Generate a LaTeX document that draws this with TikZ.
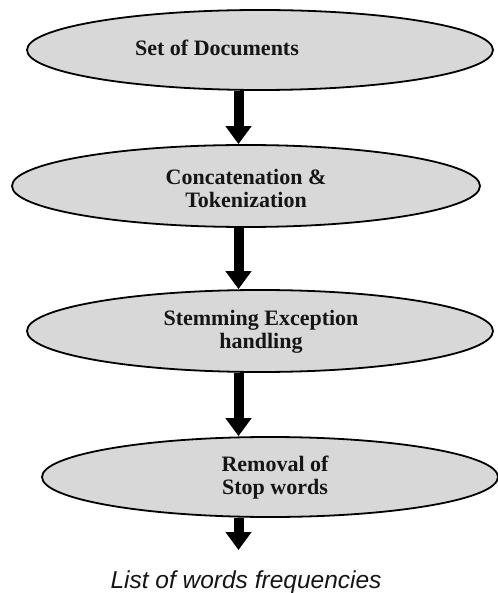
\documentclass[tikz,border=0pt]{standalone}
\usepackage{fontspec}
\setmainfont{Liberation Serif}
\setsansfont{Liberation Sans}
\usetikzlibrary{shapes.geometric,arrows.meta}
\definecolor{ellfill}{HTML}{D8D8D8}
\definecolor{txt}{HTML}{151515}
\tikzset{
  stage/.style={ellipse, draw=black, line width=1.8pt, fill=ellfill, inner sep=0pt},
  stagetext/.style={align=center, text=txt, font=\fontsize{22}{23}\selectfont\bfseries, inner sep=0pt},
  flow/.style={line width=10pt, -{Triangle[width=25pt,length=18pt]}},
  outtext/.style={font=\fontsize{24.5}{26}\selectfont\sffamily\itshape, inner sep=0pt, text=txt}
}
\begin{document}
\begin{tikzpicture}[x=1pt,y=-1pt]
\useasboundingbox (0,0) rectangle (497,593);
\node[stage, minimum width=466pt, minimum height=80pt] (e1) at (260,50) {};
\node[stage, minimum width=468pt, minimum height=82pt] (e2) at (246,186) {};
\node[stage, minimum width=466pt, minimum height=82pt] (e3) at (260,331) {};
\node[stage, minimum width=456pt, minimum height=80pt] (e4) at (270,477) {};
\node[stagetext] (t1) at (217,48) {Set of Documents};
\node[stagetext] (t2) at (246,188) {Concatenation \&\\Tokenization};
\node[stagetext] (t3) at (261,332) {Stemming Exception\\handling};
\node[stagetext] (t4) at (275,478) {Removal of\\Stop words};
\coordinate (ax) at (238.5,0);
\coordinate (end) at (238.5,550);
\node[outtext, anchor=base] (out) at (246,588) {List of words frequencies};
\draw[flow] (e1.south -| ax) -- (e2.north -| ax);
\draw[flow] (e2.south -| ax) -- (e3.north -| ax);
\draw[flow] (e3.south -| ax) -- (e4.north -| ax);
\draw[flow] (e4.south -| ax) -- (end);
\end{tikzpicture}
\end{document}
